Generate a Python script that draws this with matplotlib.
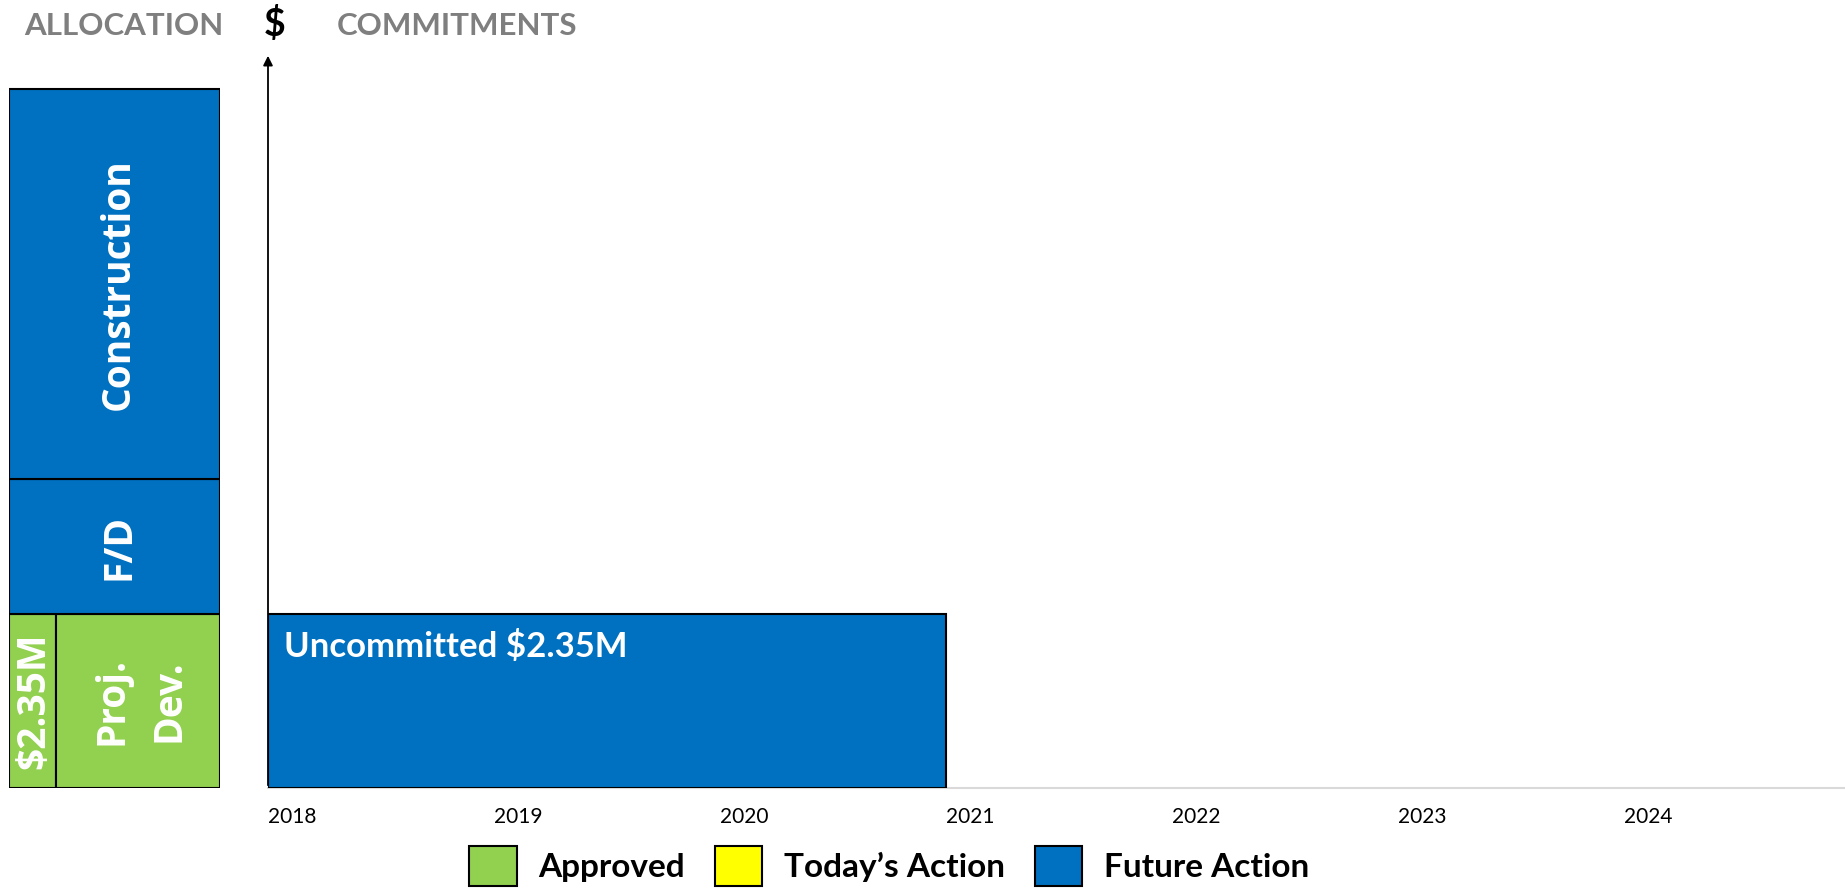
import matplotlib
matplotlib.use('Agg')
import matplotlib.pyplot as plt
from matplotlib.patches import Patch

# allocation stack (in $M), bottom to top
alloc_names = ['Proj.\nDev.', 'F/D', 'Construction']
alloc_values = [2.35, 1.82, 5.28]
alloc_colors = ['#92D050', '#0070C0', '#0070C0']
approved_label = '$2.35M'

# commitments
commit_start = [2018]
commit_years = [3]
commit_values = [2.35]
commit_labels = ['Uncommitted $2.35M']
commit_colors = ['#0070C0']

years = [2018, 2019, 2020, 2021, 2022, 2023, 2024]

legend_names = ['Approved', 'Today\u2019s Action', 'Future Action']
legend_colors = ['#92D050', '#FFFF00', '#0070C0']

plt.rcParams['font.family'] = ['Lato', 'DejaVu Sans']

W, H = 1845, 892
fig = plt.figure(figsize=(W / 100, H / 100), dpi=100)

bottom = (H - 788) / H
height = (788 - 53) / H
ytop = 9.93

# main commitments axes
ax = fig.add_axes([268 / W, bottom, (W - 268) / W, height])
ax.bar(commit_start, commit_values, width=commit_years, align='edge',
       color=commit_colors, edgecolor='black', linewidth=1.5, zorder=3)
for x, v, lab in zip(commit_start, commit_values, commit_labels):
    ax.annotate(lab, xy=(x, v), xytext=(16, -32), textcoords='offset pixels',
                ha='left', va='center', color='white', fontsize=25, fontweight='bold')
ax.set_xlim(2018, 2024.98)
ax.set_ylim(0, ytop)
ax.set_xticks(years)
ax.set_xticklabels([str(y) for y in years], ha='left', fontsize=15)
ax.tick_params(axis='x', length=0, pad=14)
ax.set_yticks([])
for s in ['top', 'right', 'left']:
    ax.spines[s].set_visible(False)
ax.spines['bottom'].set_color('#d9d9d9')
ax.spines['bottom'].set_linewidth(1.5)
ax.annotate('', xy=(0, 1), xytext=(0, 0), xycoords='axes fraction',
            arrowprops=dict(arrowstyle='-|>', color='black', lw=1.3, mutation_scale=14))

# allocation axes
ax2 = fig.add_axes([9 / W, bottom, 211 / W, height])
ax2.set_xlim(0, 1)
ax2.set_ylim(0, ytop)
ax2.axis('off')
split = 0.223
vfont = dict(rotation=90, ha='center', va='center', color='white',
             fontsize=28, fontweight='bold', family='Open Sans')
base = 0
for i, (name, v, c) in enumerate(zip(alloc_names, alloc_values, alloc_colors)):
    if i == 0:
        ax2.bar(0, v, width=split, bottom=base, align='edge', color=c,
                edgecolor='black', linewidth=1.5)
        ax2.bar(split, v, width=1 - split, bottom=base, align='edge', color=c,
                edgecolor='black', linewidth=1.5)
        ax2.text(split / 2 + 0.005, base + v / 2, approved_label, **vfont)
        ax2.text(split + (1 - split) / 2 + 0.01, base + v / 2, name, linespacing=1.6, **vfont)
    else:
        ax2.bar(0, v, width=1, bottom=base, align='edge', color=c,
                edgecolor='black', linewidth=1.5)
        ax2.text(0.52, base + v / 2, name, **vfont)
    base += v

# headers
fig.text(124 / W, 1 - 26 / H, 'ALLOCATION', ha='center', va='center',
         color='#7f7f7f', fontsize=22.5, fontweight='bold')
fig.text(275 / W, 1 - 24 / H, '$', ha='center', va='center',
         color='black', fontsize=27, fontweight='bold')
fig.text(337 / W, 1 - 26 / H, 'COMMITMENTS', ha='left', va='center',
         color='#7f7f7f', fontsize=22.5, fontweight='bold')

handles = [Patch(facecolor=c, edgecolor='black', linewidth=1.5) for c in legend_colors]
fig.legend(handles, legend_names, loc='center', bbox_to_anchor=(0.482, 0.029),
           ncol=3, frameon=False, handlelength=1.42, handleheight=1.5,
           handletextpad=0.65, columnspacing=0.9,
           prop={'size': 24, 'weight': 'bold', 'family': 'Lato'})

fig.savefig('out.png', dpi=100)
